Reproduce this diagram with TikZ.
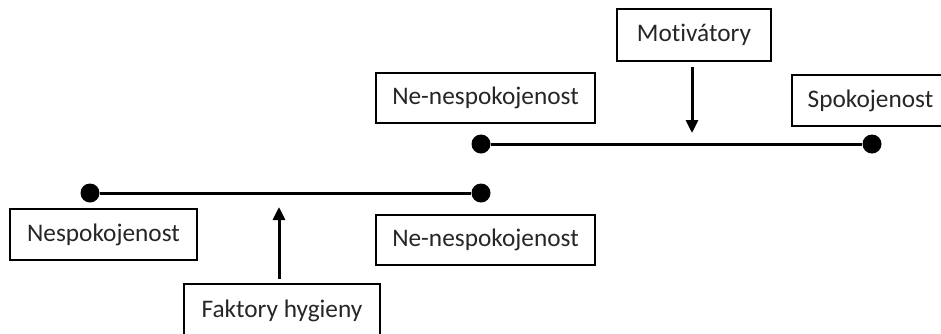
\documentclass[tikz,border=0pt]{standalone}
\usepackage{fontspec}
\setmainfont[RawFeature={-liga}]{Carlito}
\usetikzlibrary{arrows.meta}
\begin{document}
\begin{tikzpicture}[x=1pt,y=-1pt,
  box/.style={draw=black, line width=1.7pt, fill=white, inner sep=0pt,
    font=\fontsize{25.3}{29}\selectfont, text=black!85},
  dotnode/.style={circle, fill=black, inner sep=0pt, minimum size=19pt},
  bar/.style={line width=3pt},
  arr/.style={line width=3pt, -{Triangle[length=13pt,width=12pt]}}]
\useasboundingbox (0,0) rectangle (941,333);
% boxes
\node[box, minimum width=154pt, minimum height=52pt] (mot) at (694,35) {Motivátory};
\node[box, minimum width=219pt, minimum height=50pt] (nn1) at (485.5,98) {Ne-nespokojenost};
\node[box, minimum width=157pt, minimum height=51pt] (spo) at (870.5,100.5) {Spokojenost};
\node[box, minimum width=187pt, minimum height=51pt] (nesp) at (103.5,234.5) {Nespokojenost};
\node[box, minimum width=219pt, minimum height=50pt] (nn2) at (485.5,240) {Ne-nespokojenost};
\node[box, minimum width=196pt, minimum height=54pt] (fak) at (282,311) {Faktory hygieny};
% dots
\node[dotnode] (d1) at (481,144) {};
\node[dotnode] (d2) at (872,144) {};
\node[dotnode] (d3) at (90,193) {};
\node[dotnode] (d4) at (481,193) {};
% bars
\draw[bar] (d1) -- (d2);
\draw[bar] (d3) -- (d4);
% arrows
\coordinate (m1) at (692,67);
\coordinate (m2) at (692,133);
\draw[arr] (m1) -- (m2);
\coordinate (f1) at (279,279);
\coordinate (f2) at (279,207);
\draw[arr] (f1) -- (f2);
\end{tikzpicture}
\end{document}
